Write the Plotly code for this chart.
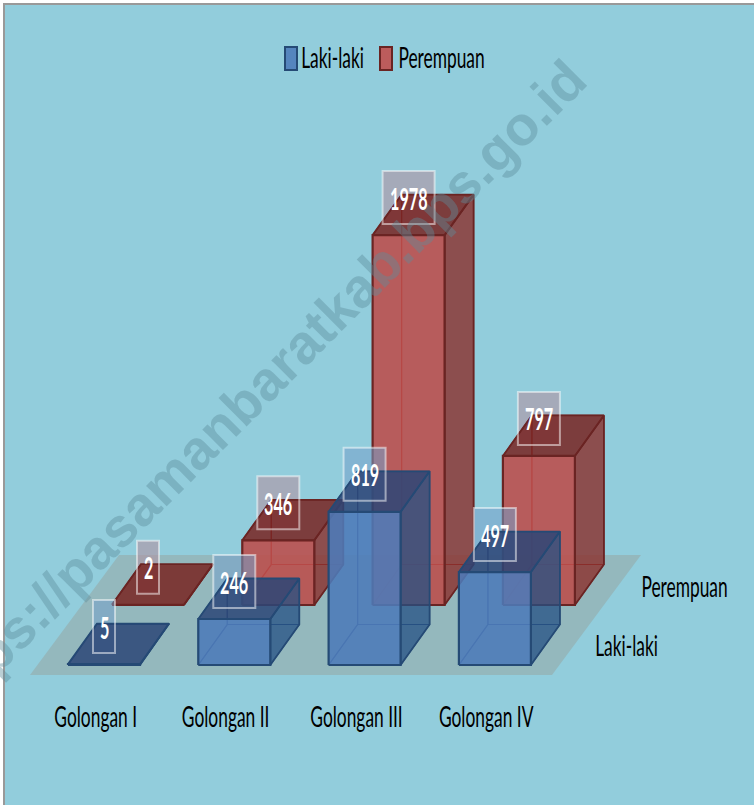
import plotly.graph_objects as go

categories = ["Golongan I", "Golongan II", "Golongan III", "Golongan IV"]
laki_laki = [5, 246, 819, 497]
perempuan = [2, 346, 1978, 797]
series_names = ["Laki-laki", "Perempuan"]

W, H = 754, 805
PITCH = 130.3          # px per category
K = 0.187              # px per value unit
X0 = 104               # px of first category centre
Y0 = 665               # px of value 0, front row
BAR = 72 / PITCH       # bar width, category units
DX, DY = 29 / PITCH, 40.5 / K        # bar depth projection
ROWX, ROWY = 44 / PITCH, 60 / K      # row-to-row projection

FONT = "Lato"
BG = "#92CDDC"

STYLE = [
    dict(front="rgba(77,123,186,0.88)", side="rgba(38,81,133,0.75)", top="rgba(45,70,120,0.85)",
         line="#254A75", inner="rgba(37,74,117,0.8)", swatch="#5585BE",
         label="rgba(116,160,202,0.55)"),
    dict(front="rgba(189,77,75,0.88)", side="rgba(140,47,44,0.8)", top="rgba(121,36,34,0.85)",
         line="#6A2423", inner="rgba(130,30,30,0.8)", swatch="#BC5C5C",
         label="rgba(178,147,162,0.6)"),
]


def px_x(p):
    return (p - X0) / PITCH


def px_y(p):
    return (Y0 - p) / K


fig = go.Figure()


def face(xs, ys, fill, line, width=1.8):
    fig.add_trace(go.Scatter(
        x=list(xs) + [xs[0]], y=list(ys) + [ys[0]], mode="lines", fill="toself",
        fillcolor=fill, line=dict(color=line, width=width), hoverinfo="skip", showlegend=False))


# floor, derived from the bar rows
fl, fr = px_x(30), px_x(552)
fb = px_y(675)
ft = px_y(555)
shift = 89 / PITCH
face([fl, fr, fr + shift, fl + shift], [fb, fb, ft, ft], "#94B8BD", "rgba(0,0,0,0)", 0)


def label_box(i, row, v):
    cx = i + row * ROWX
    cy = row * ROWY + v + 37.5 / K
    half = {1: 11, 3: 21, 4: 26}[len(str(v))] / PITCH
    hh = 26.5 / K
    return cx, cy, half, hh


def box(i, row, value):
    st = STYLE[row]
    xl = i - BAR / 2 + row * ROWX
    xr = xl + BAR
    yb = row * ROWY
    yt = yb + value
    # label plate sits behind the bar
    cx, cy, half, hh = label_box(i, row, value)
    face([cx - half, cx + half, cx + half, cx - half], [cy - hh, cy - hh, cy + hh, cy + hh],
         st["label"], "rgba(0,0,0,0)", 0)
    # hidden faces
    face([xl + DX, xr + DX, xr + DX, xl + DX], [yb + DY, yb + DY, yt + DY, yt + DY],
         "rgba(0,0,0,0.03)", st["inner"], 1.2)
    face([xl, xl + DX, xl + DX, xl], [yb, yb + DY, yt + DY, yt],
         "rgba(0,0,0,0.03)", st["inner"], 1.2)
    face([xl, xr, xr + DX, xl + DX], [yb, yb, yb + DY, yb + DY],
         "rgba(0,0,0,0.03)", st["inner"], 1.2)
    # visible faces
    face([xr, xr + DX, xr + DX, xr], [yb, yb + DY, yt + DY, yt], st["side"], st["line"])
    face([xl, xr, xr + DX, xl + DX], [yt, yt, yt + DY, yt + DY], st["top"], st["line"])
    face([xl, xr, xr, xl], [yb, yb, yt, yt], st["front"], st["line"], 2.2)


for row, vals in [(1, perempuan), (0, laki_laki)]:
    for i, v in enumerate(vals):
        box(i, row, v)

annotations = [dict(
    text="https://pasamanbaratkab.bps.go.id", x=px_x(254), y=px_y(392), xref="x", yref="y",
    showarrow=False, textangle=-45,
    font=dict(family="Liberation Sans", size=55, color="rgba(92,140,155,0.42)", weight="bold"))]

shapes = [
    dict(type="rect", xref="paper", yref="paper", x0=4 / W, x1=1.01, y0=-0.01, y1=1 - 4 / H,
         fillcolor=BG, line=dict(color="#999999", width=2), layer="below"),
]

# data labels
for row, vals in enumerate([laki_laki, perempuan]):
    for i, v in enumerate(vals):
        cx, cy, half, hh = label_box(i, row, v)
        shapes.append(dict(type="rect", xref="x", yref="y", x0=cx - half, x1=cx + half,
                           y0=cy - hh, y1=cy + hh, fillcolor="rgba(0,0,0,0)",
                           line=dict(color="rgba(255,255,255,0.5)", width=2), layer="above"))
        annotations.append(dict(text=str(v), x=cx, y=cy, xref="x", yref="y", showarrow=False,
                                font=dict(family=FONT, size=30, color="white", weight="bold")))

# category labels
for i, c in enumerate(categories):
    annotations.append(dict(text=c, x=i - 8.5 / PITCH, y=px_y(716), xref="x", yref="y", showarrow=False,
                            font=dict(family=FONT, size=28, color="black")))

# series (depth axis) labels
for name, px, py in [("Laki-laki", 626, 645), ("Perempuan", 684, 586)]:
    annotations.append(dict(text=name, x=px_x(px), y=px_y(py), xref="x", yref="y", showarrow=False,
                            font=dict(family=FONT, size=28, color="black")))

# legend
for name, st, sw, tx in [(series_names[0], STYLE[0], 291, 332), (series_names[1], STYLE[1], 386, 441)]:
    shapes.append(dict(type="rect", xref="x", yref="y", x0=px_x(sw - 6), x1=px_x(sw + 6),
                       y0=px_y(70), y1=px_y(47), fillcolor=st["swatch"],
                       line=dict(color=st["line"], width=2), layer="above"))
    annotations.append(dict(text=name, x=px_x(tx), y=px_y(57), xref="x", yref="y", showarrow=False,
                            font=dict(family=FONT, size=28, color="black")))

fig.update_layout(
    width=W, height=H, margin=dict(l=0, r=0, t=0, b=0), paper_bgcolor="white", plot_bgcolor="rgba(0,0,0,0)",
    showlegend=False, shapes=shapes, annotations=annotations,
    xaxis=dict(range=[px_x(0), px_x(W)], visible=False, fixedrange=True),
    yaxis=dict(range=[px_y(H), px_y(0)], visible=False, fixedrange=True),
)

# The reference's lettering is horizontally squeezed: narrow the glyphs of the real text nodes.
squeeze = """
document.body.style.margin='0';document.body.style.overflow='hidden';
document.querySelectorAll('.annotation-text').forEach(function(t){
  if ((t.style.fontFamily||'').indexOf('Lato') < 0) return;
  var bold = String(t.style.fontWeight) === '700' || t.style.fontWeight === 'bold';
  var f = bold ? 0.54 : 0.62;
  t.setAttribute('textLength', t.getComputedTextLength() * f);
  t.setAttribute('lengthAdjust', 'spacingAndGlyphs');
  var r = t.parentNode.querySelector('rect.bg');
  if (r) {
    var w = parseFloat(r.getAttribute('width')), x = parseFloat(r.getAttribute('x')) || 0;
    r.setAttribute('width', w * f);
    r.setAttribute('x', x + w * (1 - f) / 2);
  }
});
"""
fig.write_html("out.html", config={"displayModeBar": False}, post_script=squeeze)
